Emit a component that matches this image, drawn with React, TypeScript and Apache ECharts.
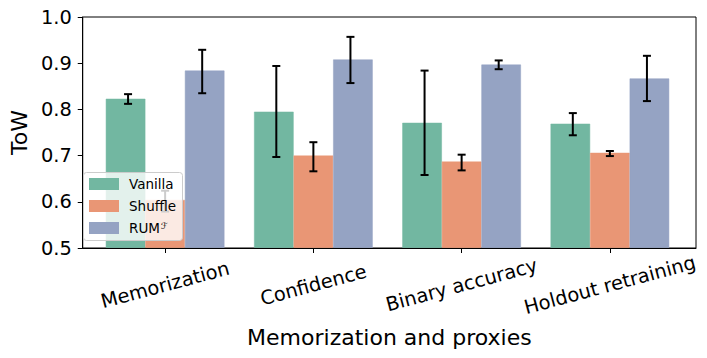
import React, { useEffect, useRef } from "react";
import * as echarts from "echarts";

const categories = ["Memorization", "Confidence", "Binary accuracy", "Holdout retraining"];
const seriesNames = ["Vanilla", "Shuffle", "RUM"];
const vanilla = [0.823, 0.795, 0.771, 0.769];
const vanillaLow = [0.812, 0.697, 0.658, 0.744];
const vanillaHigh = [0.833, 0.894, 0.884, 0.792];
const shuffle = [0.604, 0.7, 0.687, 0.706];
const shuffleLow = [0.579, 0.666, 0.668, 0.699];
const shuffleHigh = [0.624, 0.729, 0.702, 0.71];
const rum = [0.884, 0.908, 0.897, 0.867];
const rumLow = [0.835, 0.857, 0.887, 0.818];
const rumHigh = [0.929, 0.957, 0.906, 0.916];
const yMin = 0.5;
const yMax = 1.0;
const yStep = 0.1;
const colors = ["#72b7a1", "#e99675", "#95a3c3"];

const FONT = "DejaVu Sans";

export default function App() {
  const ref = useRef<HTMLDivElement>(null);
  useEffect(() => {
    if (!ref.current) return;
    const chart = echarts.init(ref.current, undefined, { renderer: "svg" });
    const values = [vanilla, shuffle, rum];
    const lows = [vanillaLow, shuffleLow, rumLow];
    const highs = [vanillaHigh, shuffleHigh, rumHigh];

    const errSeries = seriesNames.map((n, si) => ({
      type: "custom",
      name: n + " error",
      xAxisIndex: 1,
      yAxisIndex: 1,
      z: 3,
      silent: true,
      encode: { x: 0, y: [1, 2] },
      data: categories.map((_, ci) => [ci, lows[si][ci], highs[si][ci]]),
      renderItem: (params: any, api: any) => {
        const ci = api.value(0);
        const lo = api.coord([ci, api.value(1)]);
        const hi = api.coord([ci, api.value(2)]);
        const band = api.size([1, 0])[0];
        const cx = lo[0] + (si - 1) * band * 0.25;
        const cap = 4;
        const style = { stroke: "#000", lineWidth: 2 };
        return {
          type: "group",
          children: [
            { type: "line", shape: { x1: cx, y1: lo[1], x2: cx, y2: hi[1] }, style },
            { type: "line", shape: { x1: cx - cap, y1: lo[1], x2: cx + cap, y2: lo[1] }, style },
            { type: "line", shape: { x1: cx - cap, y1: hi[1], x2: cx + cap, y2: hi[1] }, style },
          ],
        };
      },
    }));

    // Legend frame: semi-transparent box drawn on the same cartesian as the bars
    const legendFrame = {
      type: "custom",
      name: "legend frame",
      xAxisIndex: 1,
      yAxisIndex: 1,
      z: 4,
      silent: true,
      encode: { x: 0, y: 1 },
      data: [[0, yMin]],
      renderItem: () => ({
        type: "rect",
        shape: { x: 83.5, y: 172.5, width: 99, height: 68, r: 3 },
        style: { fill: "rgba(255,255,255,0.8)", stroke: "#cccccc", lineWidth: 1 },
      }),
    };

    const barSeries = seriesNames.map((n, si) => ({
      type: "bar",
      name: n,
      xAxisIndex: 1,
      yAxisIndex: 1,
      z: 1,
      clip: false,
      barWidth: "26.67%",
      barGap: "0%",
      itemStyle: { color: colors[si], borderColor: colors[si], borderWidth: 0.5 },
      data: values[si],
    }));

    chart.setOption({
      animation: false,
      textStyle: { fontFamily: FONT },
      grid: [
        { left: 76, right: 11, top: 17, bottom: 110, show: true, borderColor: "#000", borderWidth: 1, backgroundColor: "transparent" },
        { left: 91, right: 23, top: 17, bottom: 110 },
      ],
      xAxis: [
        {
          gridIndex: 0,
          type: "value",
          min: 0,
          max: 1,
          z: 10,
          axisLine: { show: true, lineStyle: { color: "#000", width: 1 } },
          axisTick: { show: false },
          axisLabel: { show: false },
          splitLine: { show: false },
          name: "Memorization and proxies",
          nameLocation: "middle",
          nameGap: 78,
          nameTextStyle: { fontSize: 22, color: "#000", fontFamily: FONT },
        },
        {
          gridIndex: 1,
          type: "category",
          data: categories,
          axisLine: { show: false },
          axisTick: { show: true, alignWithLabel: true, length: 5, lineStyle: { color: "#000", width: 1 } },
          axisLabel: {
            interval: 0,
            rotate: 15,
            align: "center",
            verticalAlign: "middle",
            margin: 37,
            fontSize: 19.4,
            color: "#000",
            fontFamily: FONT,
          },
          splitLine: { show: false },
        },
      ],
      yAxis: [
        {
          gridIndex: 0,
          type: "value",
          min: yMin,
          max: yMax,
          interval: yStep,
          axisLine: { show: true, lineStyle: { color: "#000", width: 1 } },
          axisTick: { show: true, length: 5, lineStyle: { color: "#000", width: 1 } },
          axisLabel: {
            formatter: (v: number) => v.toFixed(1),
            fontSize: 19.4,
            margin: 11,
            color: "#000",
            fontFamily: FONT,
          },
          splitLine: { show: false },
          name: "ToW",
          nameLocation: "middle",
          nameGap: 46,
          nameTextStyle: { fontSize: 22, color: "#000", fontFamily: FONT },
        },
        { gridIndex: 1, type: "value", min: yMin, max: yMax, startValue: yMin, show: false },
      ],
      legend: {
        orient: "vertical",
        z: 10,
        left: 83,
        top: 173,
        data: seriesNames,
        itemWidth: 28,
        itemHeight: 10,
        itemGap: 8,
        icon: "rect",
        selectedMode: false,
        padding: [4, 6, 4, 6],
        formatter: (name: string) => (name === "RUM" ? "RUM{sup|ℱ}" : name),
        textStyle: {
          fontSize: 13.5,
          lineHeight: 14,
          color: "#000",
          fontFamily: FONT,
          padding: [0, 0, 0, 6],
          rich: {
            sup: { fontSize: 9, lineHeight: 14, verticalAlign: "top", color: "#000", fontFamily: FONT, padding: [0, 0, 6, 1] },
          },
        },
      },
      series: [...barSeries, ...errSeries, legendFrame],
    });
    return () => chart.dispose();
  }, []);
  return (
    <div
      ref={ref}
      style={{ position: "fixed", left: 0, top: 0, width: 707, height: 358, background: "#fff" }}
    />
  );
}
